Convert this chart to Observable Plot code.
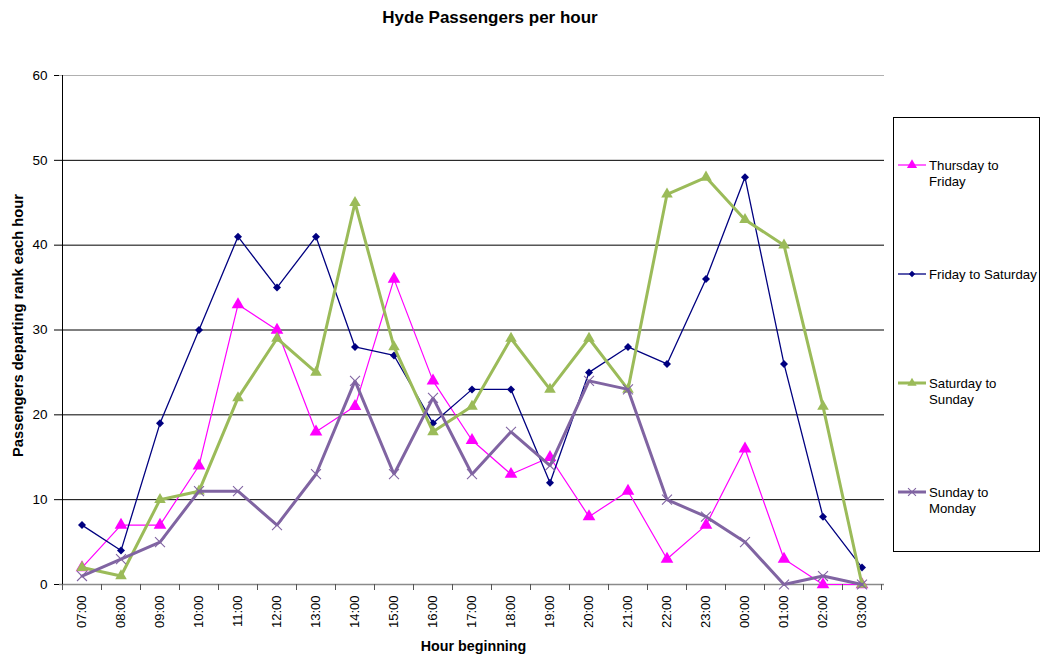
<!DOCTYPE html>
<html>
<head>
<meta charset="utf-8">
<script src="https://cdn.jsdelivr.net/npm/d3@7"></script>
<script src="https://cdn.jsdelivr.net/npm/@observablehq/plot@0.6"></script>
<style>
  body { margin: 0; background: #fff; }
  svg { display: block; }
</style>
</head>
<body>
<div id="chart"></div>
<script>
// Hour the count starts, from 07:00 through to 03:00 the next morning
const hours = ["07:00", "08:00", "09:00", "10:00", "11:00", "12:00", "13:00", "14:00",
  "15:00", "16:00", "17:00", "18:00", "19:00", "20:00", "21:00", "22:00", "23:00",
  "00:00", "01:00", "02:00", "03:00"];

// Passengers departing the rank in each hour, one list per night
const thursdayToFriday = [2, 7, 7, 14, 33, 30, 18, 21, 36, 24, 17, 13, 15, 8, 11, 3, 7, 16, 3, 0, 0];
const fridayToSaturday = [7, 4, 19, 30, 41, 35, 41, 28, 27, 19, 23, 23, 12, 25, 28, 26, 36, 48, 26, 8, 2];
const saturdayToSunday = [2, 1, 10, 11, 22, 29, 25, 45, 28, 18, 21, 29, 23, 29, 23, 46, 48, 43, 40, 21, 0];
const sundayToMonday = [1, 3, 5, 11, 11, 7, 13, 24, 13, 22, 13, 18, 14, 24, 23, 10, 8, 5, 0, 1, 0];

const seriesNames = ["Thursday to Friday", "Friday to Saturday", "Saturday to Sunday", "Sunday to Monday"];
const seriesValues = [thursdayToFriday, fridayToSaturday, saturdayToSunday, sundayToMonday];
const yTicks = [0, 10, 20, 30, 40, 50, 60];

// Drawing style of each series (line + marker)
const seriesStyles = [
  { color: "#FF00FF", lineWidth: 1.2, symbol: "triangle", r: 4.7, filled: true, legendLines: ["Thursday to", "Friday"] },
  { color: "#000080", lineWidth: 1.3, symbol: "diamond2", r: 3.6, filled: true, legendLines: ["Friday to Saturday"] },
  { color: "#9BBB59", lineWidth: 3, symbol: "triangle", r: 4.3, filled: true, legendLines: ["Saturday to", "Sunday"] },
  { color: "#8064A2", lineWidth: 3, symbol: "times", r: 4.6, filled: false, legendLines: ["Sunday to", "Monday"] }
];

const FONT = "'Liberation Sans', Arial, Helvetica, sans-serif";

const rows = seriesNames.map((name, s) =>
  hours.map((hour, i) => ({ series: name, hour, value: seriesValues[s][i] })));

const seriesMarks = rows.flatMap((data, s) => {
  const st = seriesStyles[s];
  return [
    Plot.line(data, { x: "hour", y: "value", stroke: st.color, strokeWidth: st.lineWidth, strokeLinejoin: "miter" }),
    Plot.dot(data, st.filled
      ? { x: "hour", y: "value", symbol: st.symbol, r: st.r, fill: st.color, stroke: "none" }
      : { x: "hour", y: "value", symbol: st.symbol, r: st.r, stroke: st.color, strokeWidth: 1.1, fill: "none" })
  ];
});

const plot = Plot.plot({
  width: 1046,
  height: 654,
  marginTop: 75,
  marginBottom: 70,
  marginLeft: 59,
  marginRight: 162,
  style: { fontFamily: FONT, fontSize: "13px", color: "#000", background: "#fff" },
  x: { type: "band", domain: hours, padding: 0, label: null },
  y: { domain: [0, 60], label: null },
  marks: [
    Plot.gridY(yTicks.filter(t => t > 0 && t < 60), { stroke: "#000", strokeOpacity: 1 }),
    Plot.gridY([60], { stroke: "#b0b0b0", strokeOpacity: 1 }),
    Plot.axisY({ ticks: yTicks, tickSize: 5, tickPadding: 7, fontSize: 13.5, label: null }),
    Plot.axisX({ tickSize: 0, tickRotate: -90, tickPadding: 11, fontSize: 13, label: null }),
    Plot.ruleY([0], { stroke: "#8a8a8a", strokeWidth: 1.5 }),
    ...seriesMarks
  ]
});

document.getElementById("chart").appendChild(plot);

// Axis line and between-category tick marks, placed from the plot's own scales
const svg = d3.select(plot);
const sx = plot.scale("x");
const sy = plot.scale("y");
const bw = sx.bandwidth;
const left = sx.apply(hours[0]);
const right = sx.apply(hours[hours.length - 1]) + bw;
const yBase = sy.apply(0);
const yTop = sy.apply(60);

const deco = svg.append("g");
deco.append("line")
  .attr("x1", left + 0.5).attr("x2", left + 0.5)
  .attr("y1", yTop).attr("y2", yBase)
  .attr("stroke", "#000");
const bounds = hours.map(h => sx.apply(h)).concat([right]);
deco.selectAll("line.xt").data(bounds).join("line")
  .attr("class", "xt")
  .attr("x1", d => Math.round(d) + 0.5).attr("x2", d => Math.round(d) + 0.5)
  .attr("y1", yBase).attr("y2", yBase + 6)
  .attr("stroke", "#555");

// Title and axis titles
svg.append("text")
  .attr("x", 490).attr("y", 23)
  .attr("text-anchor", "middle")
  .attr("font-family", FONT).attr("font-weight", "bold").attr("font-size", 17)
  .text("Hyde Passengers per hour");

svg.append("text")
  .attr("transform", `translate(23,${(yTop + yBase) / 2 - 4}) rotate(-90)`)
  .attr("text-anchor", "middle")
  .attr("font-family", FONT).attr("font-weight", "bold").attr("font-size", 14.7)
  .text("Passengers departing rank each hour");

svg.append("text")
  .attr("x", (left + right) / 2 + 2).attr("y", 651)
  .attr("text-anchor", "middle")
  .attr("font-family", FONT).attr("font-weight", "bold").attr("font-size", 14.3)
  .text("Hour beginning");

// Legend box on the right
const legend = svg.append("g")
  .attr("font-family", FONT).attr("font-size", 13.2)
  .attr("text-anchor", "start");
legend.append("rect")
  .attr("x", right + 12.5).attr("y", 117.5)
  .attr("width", 146).attr("height", 434)
  .attr("fill", "#fff").attr("stroke", "#000");

const symbolTypes = { triangle: d3.symbolTriangle, diamond2: d3.symbolDiamond2, times: d3.symbolTimes };
seriesStyles.forEach((st, s) => {
  const cy = 165 + s * 109;
  const g = legend.append("g");
  g.append("line")
    .attr("x1", right + 17).attr("x2", right + 45)
    .attr("y1", cy).attr("y2", cy)
    .attr("stroke", st.color).attr("stroke-width", st.lineWidth);
  const size = Math.PI * (st.r * 0.8) ** 2;
  const path = g.append("path")
    .attr("transform", `translate(${right + 31},${cy})`)
    .attr("d", d3.symbol(symbolTypes[st.symbol], size)());
  if (st.filled) path.attr("fill", st.color);
  else path.attr("fill", "none").attr("stroke", st.color).attr("stroke-width", 1.1);
  st.legendLines.forEach((t, k) => {
    g.append("text")
      .attr("x", right + 48).attr("y", cy + k * 16)
      .attr("dy", "0.35em")
      .attr("text-anchor", "start")
      .attr("fill", "#000")
      .text(t);
  });
});
</script>
</body>
</html>
